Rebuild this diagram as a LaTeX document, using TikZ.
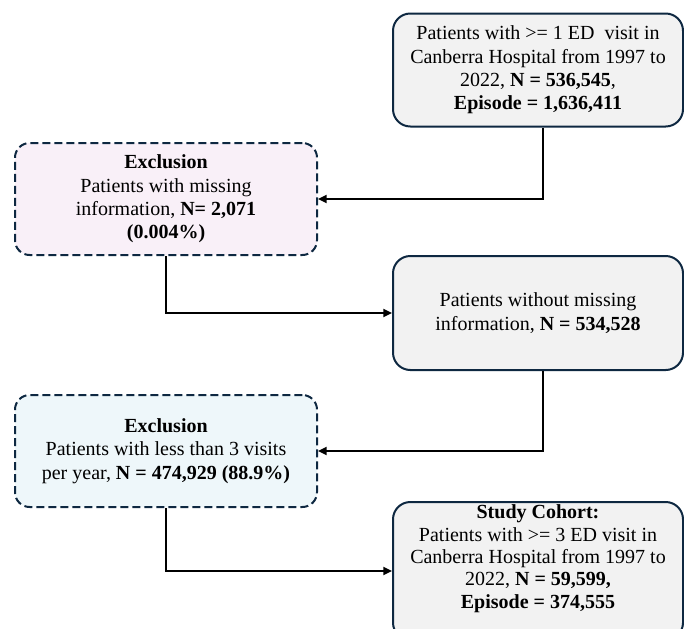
\documentclass[tikz,border=0pt]{standalone}
\usepackage{fontspec}
\setmainfont{Liberation Serif}
\usetikzlibrary{arrows.meta}
\definecolor{boxline}{HTML}{0E2841}
\definecolor{boxfill}{HTML}{F2F2F2}
\definecolor{pinkfill}{HTML}{F9F0F8}
\definecolor{bluefill}{HTML}{EEF7FA}
\begin{document}
\begin{tikzpicture}[x=0.75pt, y=-0.75pt,
        flowbox/.style={draw=boxline, line width=1.5pt, fill=boxfill, rounded corners=13pt,
            align=center, font=\fontsize{15}{17.5}\selectfont,
            minimum width=217.5pt, inner sep=0pt},
        exclbox/.style={flowbox, dash pattern=on 6pt off 3pt, rounded corners=11pt,
            minimum width=226.5pt, minimum height=84pt},
        link/.style={line width=1.5pt, -{Triangle[length=6.5pt,width=6pt]}}]
        \useasboundingbox (0,0) rectangle (684,628);

        \node (patients) [flowbox, minimum height=84.75pt] at (538,70)
        {Patients with >= 1 ED\ \ visit in\\ Canberra Hospital from 1997 to\\
        2022, \textbf{N = 536,545},\\ \textbf{Episode = 1,636,411}};
        \node (excl1) [exclbox, fill=pinkfill] at (166,199)
        {\textbf{Exclusion}\\ Patients with missing\\ information, \textbf{N= 2,071}\\ \textbf{(0.004\%)}};
        \node (complete) [flowbox, minimum height=85.5pt] at (538,313)
        {Patients without missing\\ information, \textbf{N = 534,528}};
        \node (excl2) [exclbox, fill=bluefill] at (166,451)
        {\textbf{Exclusion}\\ Patients with less than 3 visits\\ per year, \textbf{N = 474,929 (88.9\%)}};
        \node (cohort) [flowbox, minimum height=103.5pt, text depth=21.5pt,
            font=\fontsize{15}{16.75}\selectfont] at (538,571)
        {\textbf{Study Cohort:}\\ Patients with >= 3 ED visit in\\ Canberra Hospital from 1997 to\\
        2022, \textbf{N = 59,599,}\\ \textbf{Episode = 374,555}};

        \draw[link] ([xshift=3.75pt]patients.south) |- (excl1.east);
        \draw[link] (excl1.south) |- (complete.west);
        \draw[link] ([xshift=3.75pt]complete.south) |- (excl2.east);
        \draw[link] (excl2.south) |- (cohort.west);
\end{tikzpicture}
\end{document}
